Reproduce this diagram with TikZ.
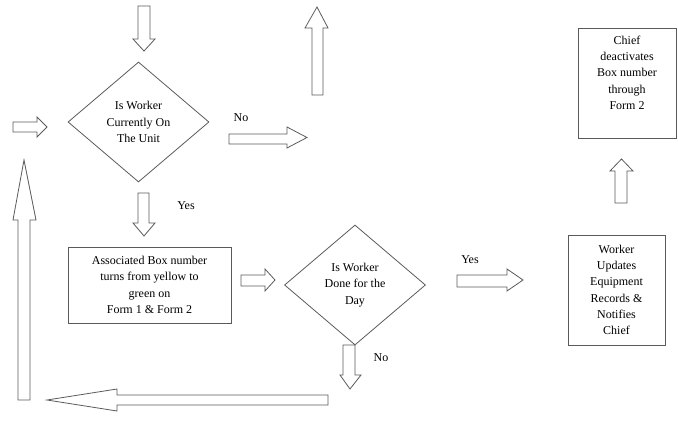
\documentclass[tikz,border=0pt]{standalone}
\usepackage{fontspec}
\newfontfamily\tnr{Liberation Serif}
\usetikzlibrary{shapes.geometric}
\definecolor{edge}{HTML}{5A5A5A}
\begin{document}
\begin{tikzpicture}[x=1pt,y=-1pt,
  blk/.style={draw=edge, line width=0.8pt, line join=miter},
  txt/.style={font=\tnr\fontsize{12}{16.3}\selectfont, align=center, inner sep=0pt},
  dia/.style={draw=edge, line width=0.8pt, diamond, minimum width=141pt, minimum height=120pt, inner sep=0pt, txt},
  rbox/.style={draw=edge, line width=0.8pt, txt}
]
\useasboundingbox (0,0) rectangle (678,423);

% nodes
\node[dia] (d1) at (138.5,122) {Is Worker\\Currently On\\The Unit};
\node[dia] (d2) at (355,285) {Is Worker\\Done for the\\Day};
\node[rbox, minimum width=163pt, minimum height=76pt] (b1) at (149.5,285)
  {Associated Box number\\turns from yellow to\\green on\\Form 1 \& Form 2};
\node[rbox, minimum width=97pt, minimum height=110pt] (b2) at (616.5,290)
  {Worker\\Updates\\Equipment\\Records \&\\Notifies\\Chief};
\node[draw=edge, line width=0.8pt, minimum width=98pt, minimum height=110pt, inner sep=0pt] (b3) at (627,83) {};
\node[txt, anchor=north] (b3t) at ([yshift=-8pt]b3.north) {Chief\\deactivates\\Box number\\through\\Form 2};

% labels
\node[txt] (lno1) at (241,118) {No};
\node[txt] (lyes1) at (186,206) {Yes};
\node[txt] (lyes2) at (470,260) {Yes};
\node[txt] (lno2) at (381,358) {No};

% block arrows
% top, pointing down into d1
\draw[blk] (138,6) -- (150,6) -- (150,39) -- (155,39) -- (144,51) -- (133,39) -- (138,39) -- cycle;
% left small, pointing right
\draw[blk] (13,122) -- (37,122) -- (37,117) -- (47,127) -- (37,137) -- (37,132) -- (13,132) -- cycle;
% No, pointing right
\draw[blk] (229,134) -- (287,134) -- (287,127) -- (307,137.5) -- (287,148) -- (287,144) -- (229,144) -- cycle;
% top right, pointing up
\draw[blk] (312,95) -- (312,28) -- (305,28) -- (317,7) -- (328,28) -- (323,28) -- (323,95) -- cycle;
% under chief box, pointing up
\draw[blk] (615,203) -- (615,171) -- (610,171) -- (621.5,159) -- (633,171) -- (627,171) -- (627,203) -- cycle;
% Yes, pointing down
\draw[blk] (138,193) -- (149,193) -- (149,223) -- (155,223) -- (144,236) -- (133,223) -- (138,223) -- cycle;
% box1 to d2
\draw[blk] (241,275) -- (265,275) -- (265,269) -- (275,280) -- (265,291) -- (265,286) -- (241,286) -- cycle;
% Yes, pointing right
\draw[blk] (457,275) -- (507,275) -- (507,269) -- (523,280) -- (507,291) -- (507,287) -- (457,287) -- cycle;
% No, pointing down from d2
\draw[blk] (343,345) -- (355,345) -- (355,375) -- (361,375) -- (350,389) -- (340,375) -- (343,375) -- cycle;
% long bottom, pointing left
\draw[blk] (328,395) -- (117,395) -- (117,389) -- (47,400) -- (117,411) -- (117,405) -- (328,405) -- cycle;
% long left, pointing up
\draw[blk] (18,400) -- (18,220) -- (13,220) -- (24,160) -- (36,220) -- (30,220) -- (30,400) -- cycle;
\end{tikzpicture}
\end{document}
